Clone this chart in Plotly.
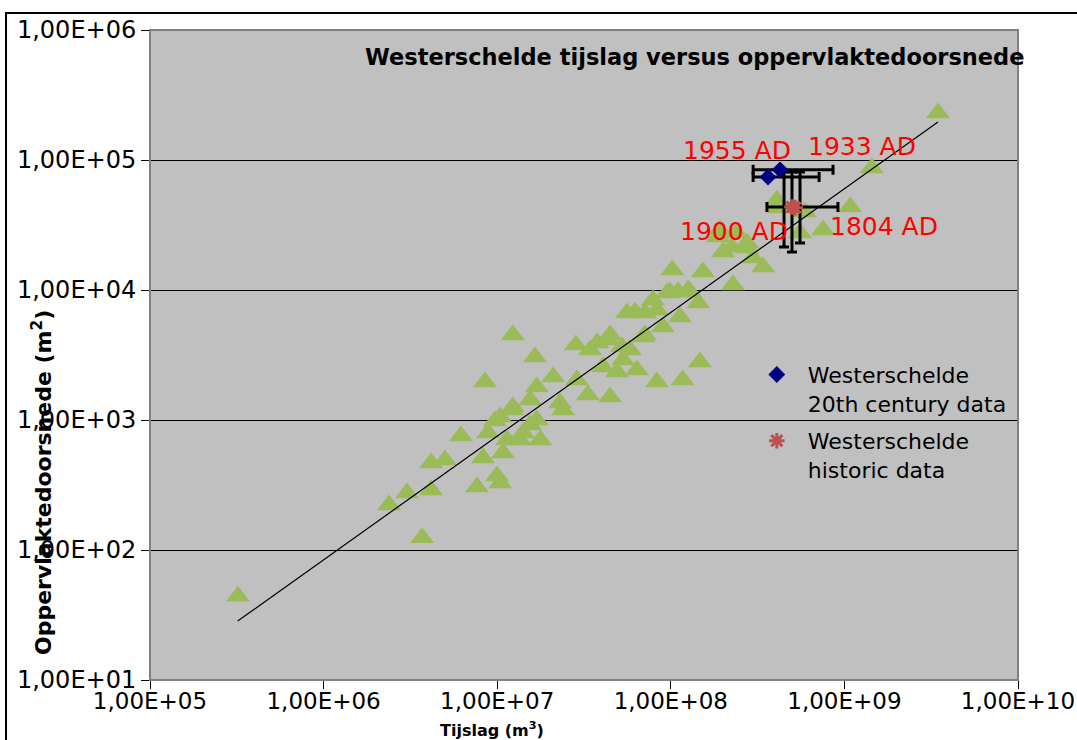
import math
import plotly.graph_objects as go

# ---- data ----
tri_x = [3.21e5,
         2.38e6, 3.02e6, 3.69e6, 4.16e6, 4.16e6, 5.00e6, 6.18e6, 7.65e6, 8.28e6, 8.85e6,
         9.71e6, 9.97e6, 1.04e7, 1.08e7, 1.22e7, 1.35e7, 1.14e7, 1.41e7, 1.77e7, 1.55e7,
         1.04e7, 8.51e6, 1.23e7, 1.65e7, 1.55e7, 1.69e7, 2.10e7, 2.39e7, 2.30e7, 1.23e7,
         1.69e7, 2.84e7, 3.43e7, 3.76e7, 4.35e7, 5.24e7, 5.82e7, 6.38e7, 5.31e7, 4.07e7,
         4.90e7, 3.33e7, 4.47e7, 2.88e7, 5.60e7, 6.22e7, 7.10e7, 7.89e7, 8.32e7, 6.92e7,
         9.02e7, 1.13e8, 1.44e8, 8.32e7, 1.17e8, 1.47e8, 1.02e8, 9.89e7, 1.10e8, 1.29e8,
         1.53e8, 2.28e8, 2.00e8, 1.87e8, 2.25e8, 2.75e8, 2.98e8, 3.40e8, 1.92e8, 2.40e8,
         2.75e8, 4.09e8, 4.15e8, 5.93e8, 5.55e8, 7.53e8, 1.08e9, 1.44e9, 3.46e9, 4.47e7,
         7.10e7, 9.51e7, 1.26e8]
tri_y = [44,
         222, 274, 124, 290, 467, 492, 753, 305, 510, 794,
         982, 371, 328, 557, 1194, 702, 702, 794, 702, 916,
         1054, 1960, 4510, 3055, 1425, 1795, 2143, 1194, 1352, 1259,
         1000, 3776, 3453, 3910, 4125, 3648, 3453, 2425, 2895, 2557,
         2340, 1556, 1503, 2031, 6650, 6770, 6650, 8375, 7020, 4350,
         5190, 6195, 7940, 1960, 2031, 2793, 14250, 9660, 9660, 9660,
         13750, 10920, 19600, 25570, 21430, 21040, 17620, 15020, 28950, 27430,
         23000, 49200, 42760, 39810, 27430, 28950, 43480, 86700, 230000, 4510,
         4510, 9480, 10000]

c20_x = [3.63e8, 4.26e8]
c20_y = [7.4e4, 8.4e4]
c20_labels = ["1955 AD", "1933 AD"]

hist_x = [4.99e8, 5.2e8]
hist_y = [4.35e4, 4.3e4]
hist_labels = ["1900 AD", "1804 AD"]

# horizontal error bars: centre, low, high
herr_x = [3.63e8, 4.26e8, 4.99e8]
herr_y = [7.4e4, 8.4e4, 4.35e4]
herr_low = [2.98e8, 2.98e8, 3.58e8]
herr_high = [7.15e8, 8.6e8, 9.18e8]

# vertical error bars: centre, low, high
verr_x = [4.49e8, 4.99e8, 5.55e8]
verr_y = [4.35e4, 4.35e4, 4.35e4]
verr_low = [2.14e4, 1.96e4, 2.3e4]
verr_high = [8.1e4, 8.1e4, 8.1e4]

trend_x = [3.2e5, 3.46e9]
trend_y = [28.4, 1.96e5]

x_ticks = [1e5, 1e6, 1e7, 1e8, 1e9, 1e10]
x_ticktext = ["1,00E+05", "1,00E+06", "1,00E+07", "1,00E+08", "1,00E+09", "1,00E+10"]
y_ticks = [1e1, 1e2, 1e3, 1e4, 1e5, 1e6]
y_ticktext = ["1,00E+01", "1,00E+02", "1,00E+03", "1,00E+04", "1,00E+05", "1,00E+06"]

FONT = "DejaVu Sans"

fig = go.Figure()

fig.add_trace(go.Scatter(
    x=tri_x, y=tri_y, mode="markers", showlegend=False, hoverinfo="skip",
    marker=dict(symbol="triangle-up", size=21, color="#9BBB59", line=dict(width=0)),
))

fig.add_trace(go.Scatter(
    x=trend_x, y=trend_y, mode="lines", showlegend=False, hoverinfo="skip",
    line=dict(color="black", width=1.2),
))

fig.add_trace(go.Scatter(
    x=herr_x, y=herr_y, mode="markers", showlegend=False, hoverinfo="skip",
    marker=dict(size=1, opacity=0),
    error_x=dict(type="data", symmetric=False,
                 array=[h - c for h, c in zip(herr_high, herr_x)],
                 arrayminus=[c - l for l, c in zip(herr_low, herr_x)],
                 color="black", thickness=3, width=5),
))

fig.add_trace(go.Scatter(
    x=verr_x, y=verr_y, mode="markers", showlegend=False, hoverinfo="skip",
    marker=dict(size=1, opacity=0),
    error_y=dict(type="data", symmetric=False,
                 array=[h - c for h, c in zip(verr_high, verr_y)],
                 arrayminus=[c - l for l, c in zip(verr_low, verr_y)],
                 color="black", thickness=3, width=5),
))

fig.add_trace(go.Scatter(
    x=c20_x, y=c20_y, mode="markers", name="Westerschelde<br>20th century data",
    legendgroup="c20",
    marker=dict(symbol="diamond", size=13, color="#000080", line=dict(width=0)),
))

fig.add_trace(go.Scatter(
    x=hist_x, y=hist_y, mode="markers", name="Westerschelde<br>historic data",
    legendgroup="hist",
    marker=dict(symbol="asterisk-open", size=13, color="#C0504D",
                line=dict(color="#C0504D", width=3)),
))

annotations = []
c20_shift = [(-31, 27), (82, 23)]
for xv, yv, lab, (dx, dy) in zip(c20_x, c20_y, c20_labels, c20_shift):
    annotations.append(dict(x=math.log10(xv), y=math.log10(yv), xref="x", yref="y",
                            text=lab, showarrow=False, xshift=dx, yshift=dy,
                            font=dict(family=FONT, size=25, color="#FF0000")))
hist_shift = [(-58, -24), (89, -19)]
for xv, yv, lab, (dx, dy) in zip(hist_x, hist_y, hist_labels, hist_shift):
    annotations.append(dict(x=math.log10(xv), y=math.log10(yv), xref="x", yref="y",
                            text=lab, showarrow=False, xshift=dx, yshift=dy,
                            font=dict(family=FONT, size=25, color="#FF0000")))

annotations.append(dict(x=0.628, y=0.958, xref="paper", yref="paper",
                        text="<b>Westerschelde tijslag versus oppervlaktedoorsnede</b>",
                        showarrow=False, xanchor="center", yanchor="middle",
                        font=dict(family=FONT, size=22.5, color="black")))
annotations.append(dict(x=0.394, y=-0.0754, xref="paper", yref="paper",
                        text="<b>Tijslag (m<sup>3</sup>)</b>",
                        showarrow=False, xanchor="center", yanchor="middle",
                        font=dict(family=FONT, size=16, color="black")))
annotations.append(dict(x=-0.1244, y=0.303, xref="paper", yref="paper",
                        text="<b>Oppervlaktedoorsnede (m<sup>2</sup>)</b>",
                        showarrow=False, textangle=-90, xanchor="center", yanchor="middle",
                        font=dict(family=FONT, size=22, color="black")))

shapes = [
    # plot area border
    dict(type="rect", xref="paper", yref="paper", x0=0, y0=0, x1=1, y1=1,
         line=dict(color="#808080", width=2), layer="above"),
    # outer chart border
    dict(type="rect", xref="paper", yref="paper", x0=-0.1659, y0=-0.1077, x1=1.083, y1=1.0262,
         line=dict(color="black", width=2), layer="above"),
]

fig.update_layout(
    width=1077, height=740,
    margin=dict(l=150, r=59, t=30, b=60, autoexpand=False),
    paper_bgcolor="white", plot_bgcolor="#C0C0C0",
    font=dict(family=FONT, size=23, color="black"),
    annotations=annotations, shapes=shapes,
    legend=dict(x=0.6864, y=0.502, xanchor="left", yanchor="top", valign="top",
                bgcolor="rgba(0,0,0,0)", font=dict(family=FONT, size=22, color="black"),
                tracegroupgap=6, itemwidth=52),
)

fig.update_xaxes(type="log", range=[5, 10], tickvals=x_ticks, ticktext=x_ticktext,
                 automargin=False,
                 showgrid=False, zeroline=False, showline=True, linecolor="black", linewidth=1,
                 ticks="outside", ticklen=8, tickcolor="black", ticklabelstandoff=-8,
                 tickfont=dict(family=FONT, size=23, color="black"))
fig.update_yaxes(type="log", range=[1, 6], tickvals=y_ticks, ticktext=y_ticktext,
                 automargin=False,
                 showgrid=True, gridcolor="black", gridwidth=1, zeroline=False,
                 showline=True, linecolor="black", linewidth=1,
                 ticks="outside", ticklen=8, tickcolor="black",
                 tickfont=dict(family=FONT, size=24, color="black"))

fig.write_html("out.html", config={"displayModeBar": False},
               post_script="document.body.style.margin='0';")
